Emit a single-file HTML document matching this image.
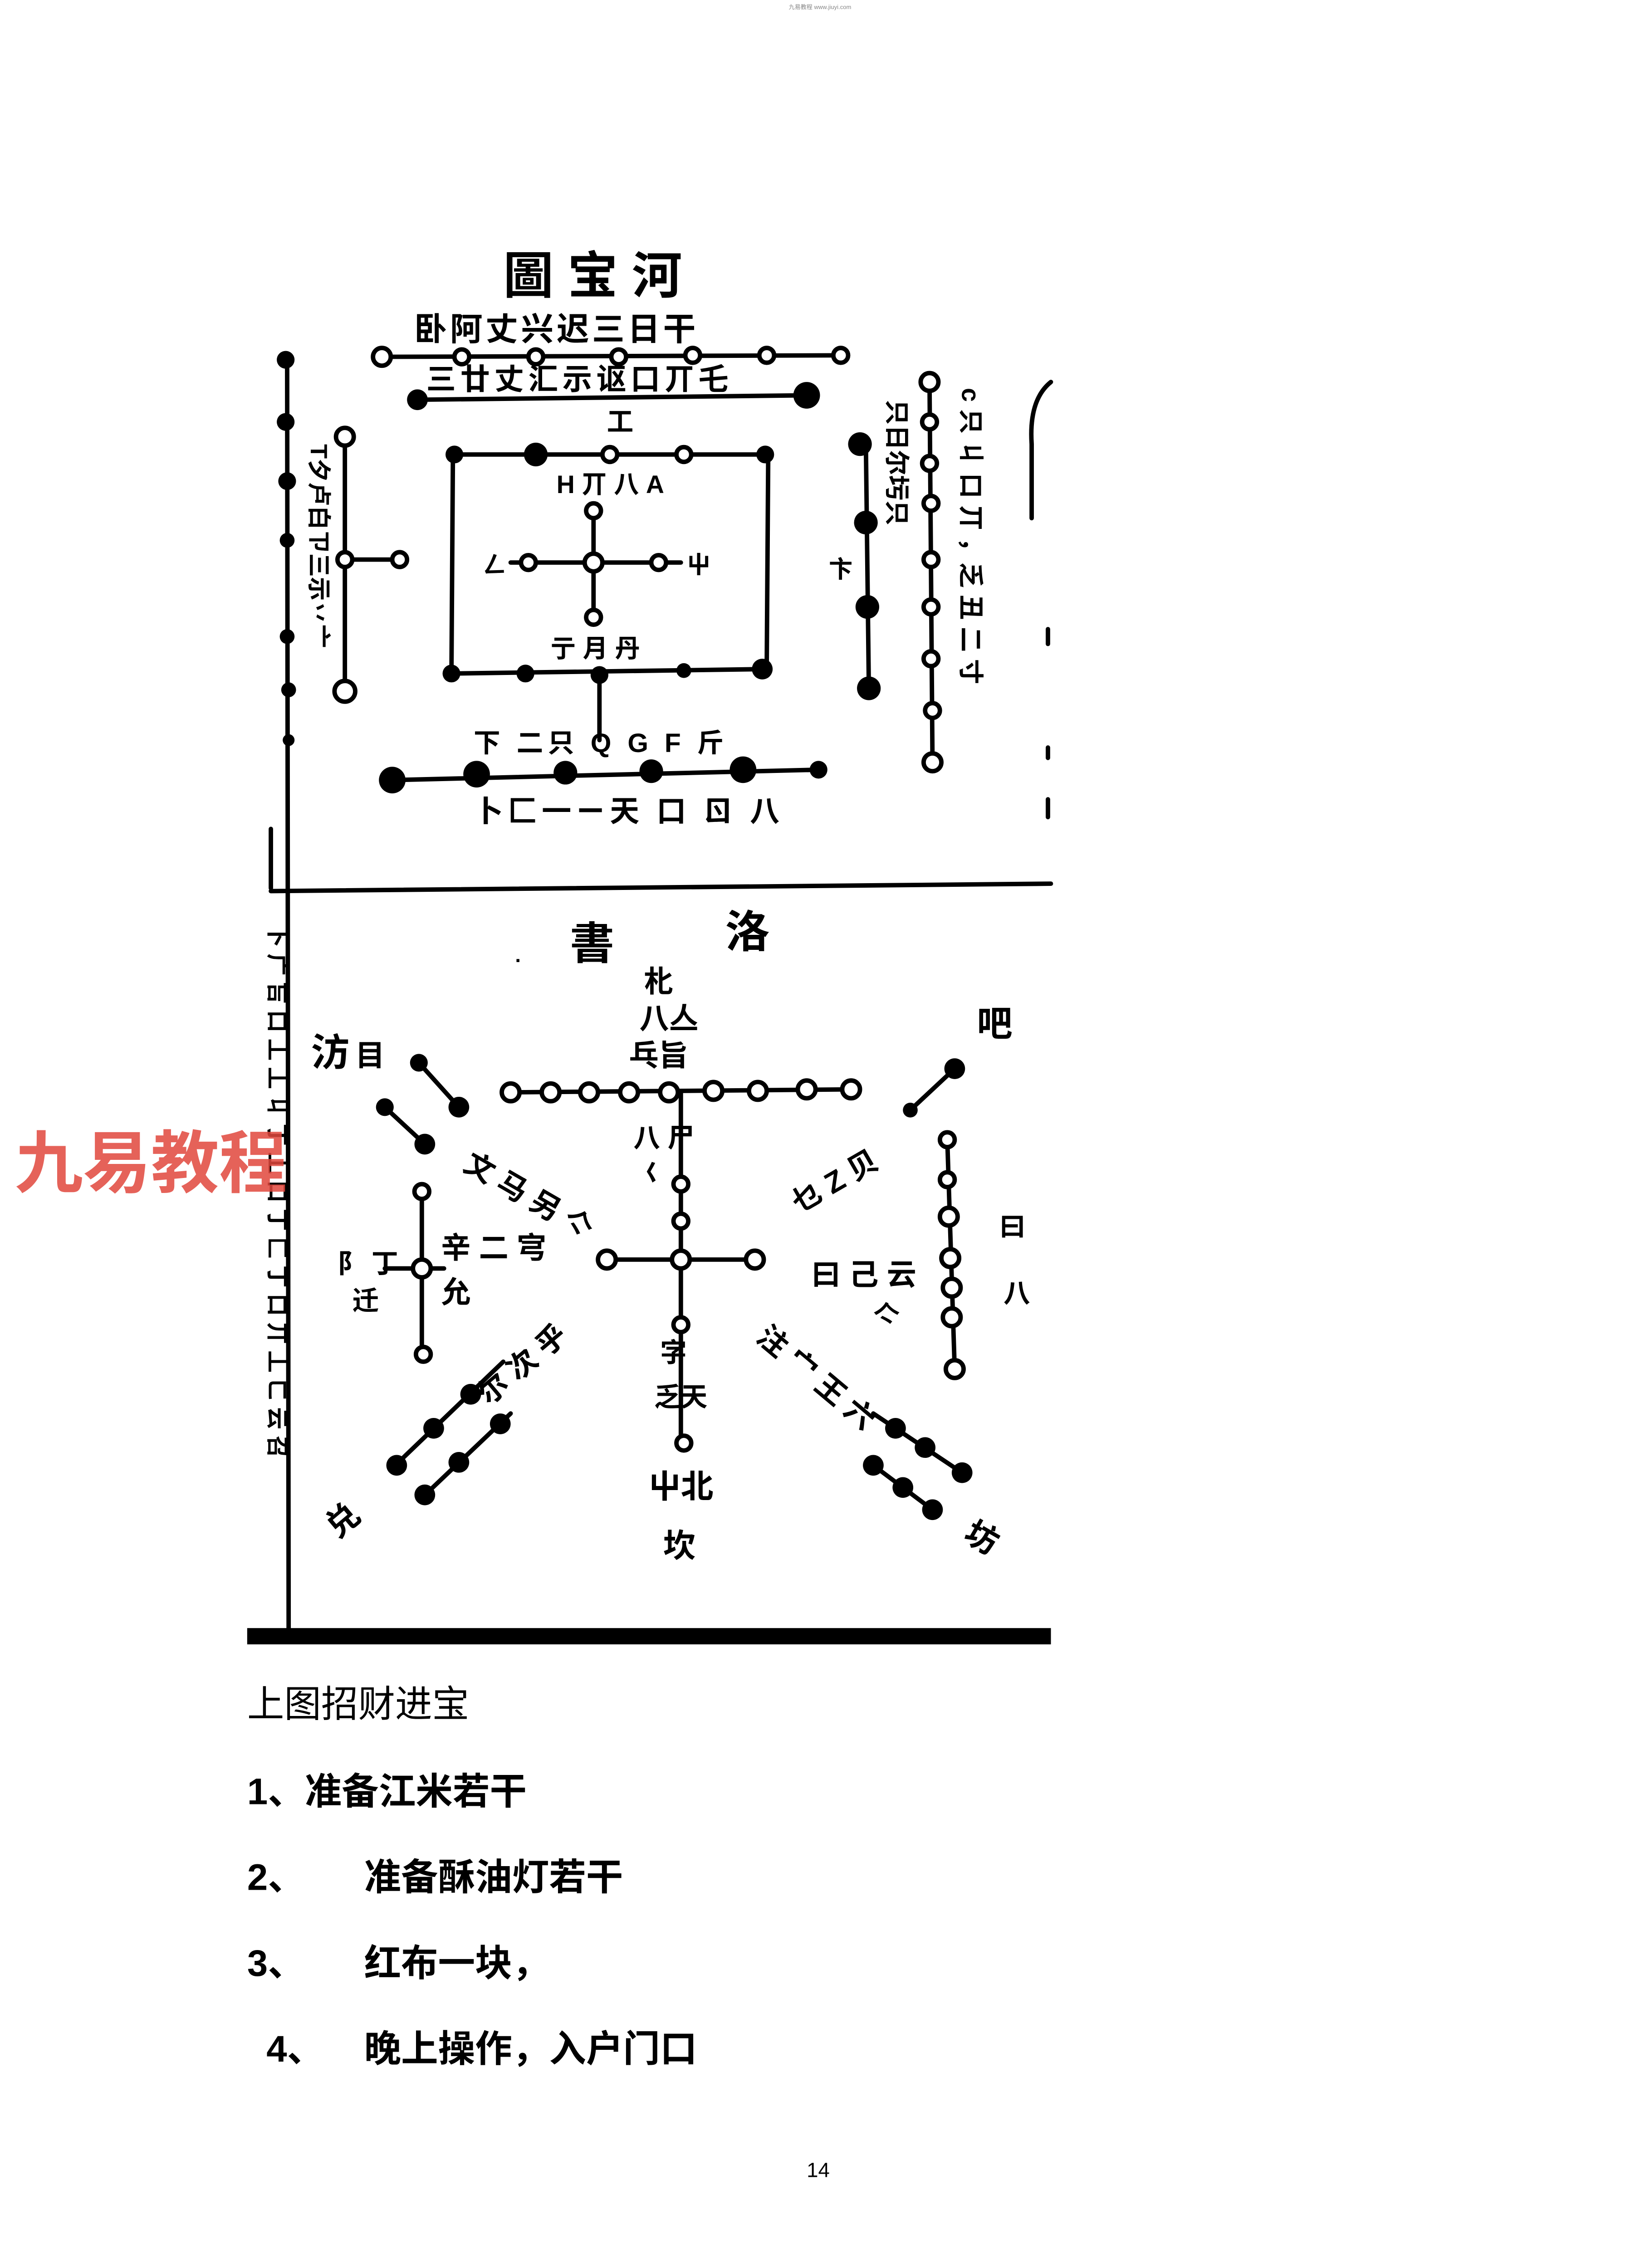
<!DOCTYPE html>
<html><head><meta charset="utf-8">
<style>
html,body{margin:0;padding:0;background:#fff;width:3615px;height:5110px;overflow:hidden;}
svg{display:block;position:absolute;left:0;top:0;}
text{font-family:"Liberation Sans","Noto Sans CJK SC",sans-serif;}
</style></head>
<body>
<svg width="3615" height="5110" viewBox="0 0 1108 1566" xmlns="http://www.w3.org/2000/svg">
<rect width="1108" height="1566" fill="#fff"/>
<g stroke="#000" stroke-width="3" fill="none" stroke-linecap="round">
<line x1="194" y1="243" x2="195" y2="1100"/>
<line x1="183" y1="602" x2="710" y2="597"/>
<line x1="183" y1="600" x2="183" y2="560"/>
<path d="M710 258 Q695 270 697 300 L697 350"/>
<line x1="708" y1="425" x2="708" y2="435"/>
<line x1="708" y1="505" x2="708" y2="512"/>
<line x1="708" y1="540" x2="708" y2="552"/>
<line x1="258" y1="241" x2="568" y2="240"/>
<line x1="282" y1="270" x2="545" y2="267"/>
<line x1="307" y1="307" x2="517" y2="307"/>
<line x1="305" y1="455" x2="517" y2="452"/>
<line x1="306" y1="307" x2="305" y2="455"/>
<line x1="519" y1="310" x2="518" y2="452"/>
<line x1="401" y1="345" x2="401" y2="418"/>
<line x1="345" y1="380" x2="460" y2="380"/>
<line x1="405" y1="455" x2="405" y2="500"/>
<line x1="265" y1="527" x2="553" y2="520"/>
<line x1="233" y1="295" x2="233" y2="467"/>
<line x1="233" y1="378" x2="270" y2="378"/>
<line x1="585" y1="300" x2="587" y2="465"/>
<line x1="628" y1="258" x2="630" y2="515"/>
<line x1="345" y1="738" x2="575" y2="736"/>
<line x1="460" y1="738" x2="460" y2="975"/>
<line x1="410" y1="851" x2="510" y2="851"/>
<line x1="285" y1="805" x2="285" y2="915"/>
<line x1="260" y1="857" x2="300" y2="857"/>
<line x1="283" y1="718" x2="310" y2="748"/>
<line x1="260" y1="748" x2="287" y2="773"/>
<line x1="645" y1="722" x2="615" y2="750"/>
<line x1="640" y1="770" x2="645" y2="925"/>
<line x1="340" y1="920" x2="265" y2="992"/>
<line x1="345" y1="955" x2="285" y2="1012"/>
<line x1="590" y1="955" x2="650" y2="995"/>
<line x1="590" y1="990" x2="630" y2="1020"/>
</g>
<rect x="167" y="1100" width="543" height="11" fill="#000"/>
<g fill="#000">
<circle cx="193" cy="243" r="6"/><circle cx="193" cy="285" r="6"/><circle cx="194" cy="325" r="6"/><circle cx="194" cy="365" r="5"/><circle cx="194" cy="430" r="5"/><circle cx="195" cy="466" r="5"/><circle cx="195" cy="500" r="4"/>
<circle cx="282" cy="270" r="7"/><circle cx="545" cy="267" r="9"/>
<circle cx="307" cy="307" r="6"/><circle cx="362" cy="307" r="8"/><circle cx="517" cy="307" r="6"/>
<circle cx="305" cy="455" r="6"/><circle cx="355" cy="455" r="6"/><circle cx="405" cy="456" r="6"/><circle cx="462" cy="453" r="5"/><circle cx="515" cy="452" r="7"/>
<circle cx="265" cy="527" r="9"/><circle cx="322" cy="523" r="9"/><circle cx="382" cy="522" r="8"/><circle cx="440" cy="521" r="8"/><circle cx="502" cy="520" r="9"/><circle cx="553" cy="520" r="6"/>
<circle cx="581" cy="300" r="8"/><circle cx="585" cy="353" r="8"/><circle cx="586" cy="410" r="8"/><circle cx="587" cy="465" r="8"/>
<circle cx="283" cy="718" r="6"/><circle cx="310" cy="748" r="7"/><circle cx="260" cy="748" r="6"/><circle cx="287" cy="773" r="7"/>
<circle cx="645" cy="722" r="7"/><circle cx="615" cy="750" r="5"/>
<circle cx="318" cy="942" r="7"/><circle cx="293" cy="965" r="7"/><circle cx="268" cy="990" r="7"/>
<circle cx="338" cy="962" r="7"/><circle cx="310" cy="988" r="7"/><circle cx="287" cy="1010" r="7"/>
<circle cx="605" cy="965" r="7"/><circle cx="625" cy="978" r="7"/><circle cx="650" cy="995" r="7"/>
<circle cx="590" cy="990" r="7"/><circle cx="610" cy="1005" r="7"/><circle cx="630" cy="1020" r="7"/>
</g>
<g fill="#fff" stroke="#000" stroke-width="3">
<circle cx="258" cy="241" r="6"/><circle cx="312" cy="241" r="5"/><circle cx="362" cy="241" r="5"/><circle cx="418" cy="241" r="5"/><circle cx="468" cy="240" r="5"/><circle cx="518" cy="240" r="5"/><circle cx="568" cy="240" r="5"/>
<circle cx="412" cy="307" r="5"/><circle cx="462" cy="307" r="5"/>
<circle cx="401" cy="345" r="5"/><circle cx="401" cy="380" r="6"/><circle cx="401" cy="417" r="5"/><circle cx="357" cy="380" r="5"/><circle cx="445" cy="380" r="5"/>
<circle cx="233" cy="295" r="6"/><circle cx="233" cy="467" r="7"/><circle cx="233" cy="378" r="5"/><circle cx="270" cy="378" r="5"/>
<circle cx="628" cy="258" r="6"/><circle cx="628" cy="285" r="5"/><circle cx="628" cy="313" r="5"/><circle cx="629" cy="340" r="5"/><circle cx="629" cy="378" r="5"/><circle cx="629" cy="410" r="5"/><circle cx="629" cy="445" r="5"/><circle cx="630" cy="480" r="5"/><circle cx="630" cy="515" r="6"/>
<circle cx="345" cy="738" r="6"/><circle cx="372" cy="738" r="6"/><circle cx="398" cy="738" r="6"/><circle cx="425" cy="738" r="6"/><circle cx="452" cy="738" r="6"/><circle cx="482" cy="737" r="6"/><circle cx="512" cy="737" r="6"/><circle cx="545" cy="736" r="6"/><circle cx="575" cy="736" r="6"/>
<circle cx="460" cy="800" r="5"/><circle cx="460" cy="825" r="5"/>
<circle cx="410" cy="851" r="6"/><circle cx="460" cy="851" r="6"/><circle cx="510" cy="851" r="6"/>
<circle cx="460" cy="895" r="5"/><circle cx="462" cy="975" r="5"/>
<circle cx="285" cy="805" r="5"/><circle cx="285" cy="857" r="6"/><circle cx="286" cy="915" r="5"/>
<circle cx="640" cy="770" r="5"/><circle cx="640" cy="797" r="5"/><circle cx="641" cy="822" r="6"/><circle cx="642" cy="850" r="6"/><circle cx="643" cy="870" r="6"/><circle cx="643" cy="890" r="6"/><circle cx="645" cy="925" r="6"/>
</g>
<g font-weight="bold" fill="#000">
<text x="340" y="198" font-size="34">圖 宝 河</text>
<text x="280" y="230" font-size="22" letter-spacing="2">卧阿丈兴迟三日干</text>
<text x="288" y="263" font-size="20" letter-spacing="3">三廿丈汇示讴口丌乇</text>
<text x="410" y="291" font-size="18">工</text>
<text x="376" y="333" font-size="17">H 丌 八 A</text>
<text x="326" y="387" font-size="16">ㄥ</text>
<text x="464" y="387" font-size="16">屮</text>
<text x="372" y="444" font-size="17">亍 月 丹</text>
<text x="320" y="508" font-size="18" letter-spacing="3">下 二只 Q G F 斤</text>
<text x="320" y="555" font-size="20" letter-spacing="3">卜匚一ㄧ天 口 ㄖ 八</text>
<text x="210" y="300" font-size="16" transform="rotate(90 210 300)">T夕卢白ㄗ三示丷亠</text>
<text x="600" y="270" font-size="17" transform="rotate(90 600 270)">只日尔圬只</text>
<text x="650" y="262" font-size="17" transform="rotate(90 650 262)">c 只 丩 口 丌 ，乏 丑 二 寸</text>
<text x="560" y="390" font-size="16">卞</text>
<text x="385" y="648" font-size="30">書</text>
<text x="490" y="640" font-size="30">洛</text>
<text x="348" y="650" font-size="14">.</text>
<text x="435" y="670" font-size="20">朼</text>
<text x="432" y="695" font-size="20">八亼</text>
<text x="425" y="720" font-size="20">乓旨</text>
<text x="428" y="775" font-size="18">八 尸</text>
<text x="432" y="798" font-size="16">𡿨</text>
<text x="446" y="920" font-size="18">字</text>
<text x="442" y="950" font-size="18">乏天</text>
<text x="438" y="1012" font-size="22">屮北</text>
<text x="448" y="1052" font-size="22">坎</text>
<text x="210" y="720" font-size="26">汸</text><text x="240" y="720" font-size="20">目</text>
<text x="312" y="790" font-size="20" transform="rotate(30 312 790)">文 马 另 亽</text>
<text x="298" y="850" font-size="20">辛 二 宆</text>
<text x="298" y="880" font-size="20">允</text>
<text x="228" y="860" font-size="18">阝 丁</text>
<text x="238" y="885" font-size="18">迁</text>
<text x="330" y="950" font-size="20" transform="rotate(-40 330 950)">尔 次 乎</text>
<text x="228" y="1040" font-size="22" transform="rotate(-40 228 1040)">兑</text>
<text x="540" y="820" font-size="20" transform="rotate(-30 540 820)">乜 Z 贝</text>
<text x="548" y="868" font-size="20">曰 己 云</text>
<text x="590" y="895" font-size="18">亽</text>
<text x="675" y="835" font-size="18">曰</text>
<text x="678" y="880" font-size="18">八</text>
<text x="660" y="700" font-size="24">吧</text>
<text x="510" y="905" font-size="20" transform="rotate(40 510 905)">注 宀 王 六</text>
<text x="650" y="1040" font-size="22" transform="rotate(30 650 1040)">坊</text>
<text x="182" y="625" font-size="15" transform="rotate(90 182 625)">卜 广 吂 口 丄 丄 丩 丁 丄 口 丁 匚 丁 口 丌 丄 ㄈ 云 召</text>
</g>
<text x="10" y="802" font-size="46" font-weight="bold" fill="#e0463c" fill-opacity="0.85">九易教程</text>
<g fill="#000" font-size="25">
<text x="167" y="1160">上图招财进宝</text>
<text x="167" y="1219" font-weight="bold">1、准备江米若干</text>
<text x="167" y="1277" font-weight="bold">2、</text><text x="246" y="1277" font-weight="bold">准备酥油灯若干</text>
<text x="167" y="1335" font-weight="bold">3、</text><text x="246" y="1335" font-weight="bold">红布一块，</text>
<text x="180" y="1393" font-weight="bold">4、</text><text x="246" y="1393" font-weight="bold">晚上操作，入户门口</text>
</g>
<text x="545" y="1471" font-size="14" fill="#000">14</text>
<text x="554" y="6" font-size="4" fill="#888" text-anchor="middle">九易教程 www.jiuyi.com</text>
</svg>
</body></html>
